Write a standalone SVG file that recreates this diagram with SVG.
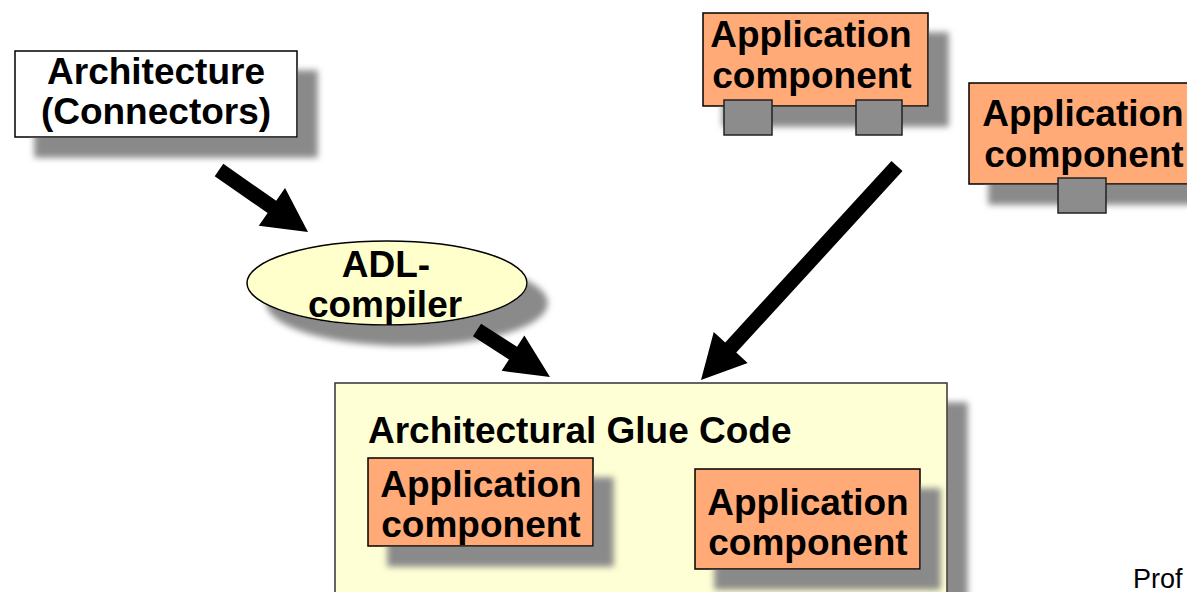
<svg xmlns="http://www.w3.org/2000/svg" width="1187" height="592" viewBox="0 0 1187 592">
<defs>
<filter id="sh" x="-20%" y="-30%" width="150%" height="170%">
<feDropShadow dx="20" dy="20" stdDeviation="3" flood-color="#8a8a8a" flood-opacity="1"/>
</filter>
<style>
.t{font-family:"Liberation Sans",Arial,sans-serif;font-weight:bold;font-size:37px;fill:#000;text-anchor:middle}
.comp{fill:#FFAA77;stroke:#000;stroke-width:1.5}
.port{fill:#8C8C8C;stroke:#222;stroke-width:1.5}
.arr{fill:#000}
</style>
</defs>
<rect width="1187" height="592" fill="#fff"/>

<g id="glue">
<rect x="335" y="383" width="612" height="240" fill="#FFFFD5" stroke="#333" stroke-width="1.5" filter="url(#sh)"/>
<text class="t" x="368" y="443" style="text-anchor:start">Architectural Glue Code</text>
</g>

<g id="glue-comp1">
<rect class="comp" x="368" y="458" width="225" height="88" filter="url(#sh)"/>
<text class="t" x="481" y="497">Application</text>
<text class="t" x="481" y="537">component</text>
</g>

<g id="glue-comp2">
<rect class="comp" x="695" y="469" width="225" height="100" filter="url(#sh)"/>
<text class="t" x="808" y="515">Application</text>
<text class="t" x="808" y="555">component</text>
</g>

<g id="architecture">
<rect x="15" y="51" width="282" height="86" fill="#fff" stroke="#000" stroke-width="1.5" filter="url(#sh)"/>
<text class="t" x="156" y="84">Architecture</text>
<text class="t" x="156" y="124">(Connectors)</text>
</g>

<g id="adl">
<ellipse cx="387" cy="283" rx="140" ry="42" fill="#FFFFCC" stroke="#000" stroke-width="1.5" filter="url(#sh)"/>
<text class="t" x="386" y="277">ADL-</text>
<text class="t" x="385" y="317">compiler</text>
</g>

<g id="app-top">
<rect class="comp" x="703" y="13" width="225" height="93" filter="url(#sh)"/>
<rect class="port" x="724" y="100" width="48" height="35"/>
<rect class="port" x="856" y="100" width="46" height="35"/>
<text class="t" x="811" y="47">Application</text>
<text class="t" x="812" y="88">component</text>
</g>

<g id="app-right">
<rect class="comp" x="969" y="83" width="240" height="101" filter="url(#sh)"/>
<rect class="port" x="1058" y="178" width="48" height="35"/>
<text class="t" x="1083" y="126">Application</text>
<text class="t" x="1084" y="167">component</text>
</g>

<g id="connectors">
<polygon class="arr" points="214.71,176.15 267.61,213.00 258.75,225.72 308,232 285.05,187.98 276.19,200.70 223.29,163.85"/>
<polygon class="arr" points="472.94,336.31 508.94,359.48 501.63,370.83 550,377 524.37,335.51 517.06,346.86 481.06,323.69"/>
<polygon class="arr" points="891.47,160.93 725.19,342.48 713.76,332.02 701,380 747.68,363.08 736.25,352.62 902.53,171.07"/>
</g>

<text x="1133" y="588" font-family="Liberation Sans, Arial, sans-serif" font-size="27" fill="#000">Prof</text>
</svg>
